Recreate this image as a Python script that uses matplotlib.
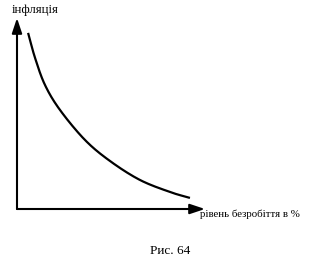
import numpy as np
import matplotlib.pyplot as plt

# крива Філліпса (умовні одиниці)
unemployment = [0.59, 0.96, 1.49, 2.29, 3.62, 4.95, 6.54, 8.14, 9.20]
inflation = [9.22, 7.91, 6.49, 5.18, 3.61, 2.51, 1.52, 0.89, 0.58]

x_label = "рівень безробіття в %"
y_label = "інфляція"
caption = "Рис. 64"

plt.rcParams['font.family'] = ['Liberation Serif', 'DejaVu Serif']


def catmull_rom(px, py, n=30):
    # гладка лінія точно через задані точки
    p = np.column_stack([px, py])
    p = np.vstack([2 * p[0] - p[1], p, 2 * p[-1] - p[-2]])
    out = []
    s = np.linspace(0, 1, n)[:, None]
    for i in range(1, len(p) - 2):
        p0, p1, p2, p3 = p[i - 1], p[i], p[i + 1], p[i + 2]
        seg = 0.5 * (2 * p1 + (-p0 + p2) * s + (2 * p0 - 5 * p1 + 4 * p2 - p3) * s ** 2
                     + (-p0 + 3 * p1 - 3 * p2 + p3) * s ** 3)
        out.append(seg)
    out = np.vstack(out)
    return out[:, 0], out[:, 1]


W, H = 327, 261
fig = plt.figure(figsize=(W / 100, H / 100), dpi=100)
ax = fig.add_axes([17 / W, (H - 209) / H, 188 / W, 191 / H])
ax.set_xlim(0, 10)
ax.set_ylim(0, 10)
ax.axis('off')

cx, cy = catmull_rom(unemployment, inflation)
ax.plot(cx, cy, color='black', lw=1.6, solid_capstyle='butt')

# осі зі стрілками
arrow = dict(arrowstyle='-|>,head_length=0.9,head_width=0.3', color='black',
             lw=1.5, shrinkA=0, shrinkB=0)
ax.annotate('', xy=(0, 10), xytext=(0, 0), xycoords='data', arrowprops=arrow,
            annotation_clip=False)
ax.annotate('', xy=(10, 0), xytext=(0, 0), xycoords='data', arrowprops=arrow,
            annotation_clip=False)

fig.text(12 / W, 1 - 10 / H, y_label, fontsize=9.3, ha='left', va='center')
fig.text(200 / W, 1 - 214 / H, x_label, fontsize=7.8, ha='left', va='center')
fig.text(150 / W, 1 - 251 / H, caption, fontsize=9.5, ha='left', va='center')

fig.savefig('out.png', dpi=100)
